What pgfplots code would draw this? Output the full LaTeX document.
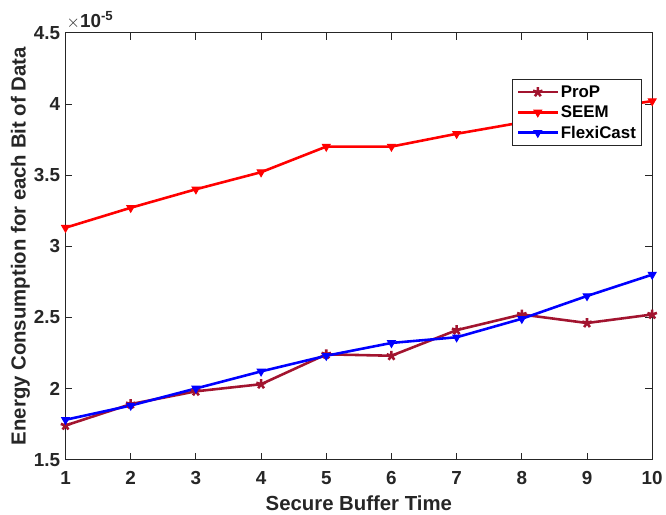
\documentclass[border=0pt]{standalone}
\usepackage{pgfplots}
\pgfplotsset{compat=1.18}
\usetikzlibrary{calc}
\usepackage{fontspec}
\setmainfont{Liberation Sans}
\definecolor{prop}{rgb}{0.635,0.078,0.184}
\definecolor{axgray}{rgb}{0.15,0.15,0.15}
\begin{document}
\begin{tikzpicture}
\begin{axis}[
  name=ax,
  scale only axis,
  width=591pt, height=430pt,
  xmin=1, xmax=10, ymin=1.5, ymax=4.5,
  xtick={1,...,10},
  ytick={1.5,2,2.5,3,3.5,4,4.5},
  yticklabels={1.5,2,2.5,3,3.5,4,4.5},
  /pgf/number format/assume math mode=true,
  tick label style={font=\fontsize{19}{19}\selectfont\bfseries, color=axgray},
  xticklabel style={yshift=-8pt},
  yticklabel style={xshift=-2pt},
  axis line style={axgray, line width=0.8pt},
  tick style={axgray, line width=0.8pt},
  tick align=inside,
  major tick length=7pt,
  xlabel={\bfseries Secure Buffer Time},
  ylabel={\bfseries Energy Consumption for each Bit of Data},
  label style={font=\fontsize{20.5}{20.5}\selectfont\bfseries, color=axgray},
  ylabel style={yshift=-3pt},
  xlabel style={yshift=-5pt},
  legend style={at={(0.983,0.891)}, anchor=north east, draw=axgray, line width=0.8pt,
    font=\fontsize{17}{18}\selectfont\bfseries, row sep=3pt, inner sep=4pt, cells={anchor=west}},
  legend cell align=left,
  legend image code/.code={
    \draw[mark repeat=2,mark phase=2] plot coordinates {(0cm,0cm) (0.7cm,0cm) (1.4cm,0cm)};},
  every axis plot/.append style={line width=2.6pt},
  clip=false,
]
\addplot[color=prop, mark=star, mark size=5pt, mark options={line width=2.6pt}] coordinates {
(1,1.74) (2,1.89) (3,1.98) (4,2.03) (5,2.24) (6,2.23) (7,2.41) (8,2.52) (9,2.46) (10,2.52)};
\addlegendentry{ProP}
\addplot[color=red, mark=triangle*, mark size=4.5pt, mark options={rotate=180, line width=1pt}] coordinates {
(1,3.13) (2,3.27) (3,3.40) (4,3.52) (5,3.70) (6,3.70) (7,3.79) (8,3.87) (9,3.95) (10,4.02)};
\addlegendentry{SEEM}
\addplot[color=blue, mark=triangle*, mark size=4.5pt, mark options={rotate=180, line width=1pt}] coordinates {
(1,1.78) (2,1.88) (3,2.00) (4,2.12) (5,2.23) (6,2.32) (7,2.36) (8,2.49) (9,2.65) (10,2.80)};
\addlegendentry{FlexiCast}
\node[anchor=south west, font=\fontsize{19}{19}\selectfont\bfseries, inner sep=1pt, color=axgray, yshift=3pt] at (axis cs:1,4.5) {$\times$10\textsuperscript{-5}};
\end{axis}
\path ($(ax.south west)+(-66pt,-54pt)$) rectangle ($(ax.north east)+(9pt,33pt)$);
\end{tikzpicture}
\end{document}
